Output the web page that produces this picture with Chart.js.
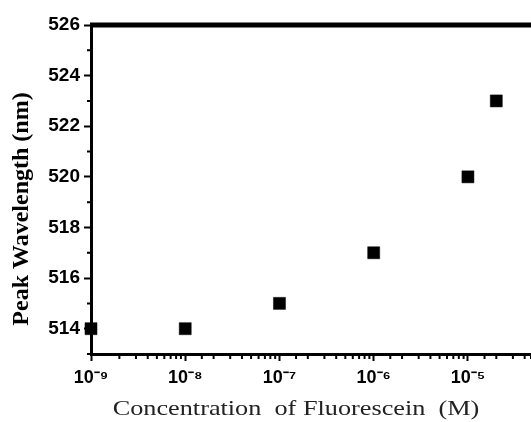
<!DOCTYPE html>
<html>
<head>
<meta charset="utf-8">
<script src="https://cdn.jsdelivr.net/npm/chart.js@4.4.1/dist/chart.umd.min.js"></script>
<style>
  html, body { margin: 0; padding: 0; background: #fff; }
  canvas { display: block; }
</style>
</head>
<body>
<canvas id="peakChart" width="531" height="422"></canvas>
<script>
// fluorescein concentration (M) vs emission peak wavelength (nm)
const concentrations = [1e-9, 1e-8, 1e-7, 1e-6, 1e-5, 2e-5];
const peakWavelengths = [514, 514, 515, 517, 520, 523];

const xRange = [1e-9, 4.67e-5];
const yRange = [513, 526];
const yLabelStep = 2;

const xTitle = 'Concentration  of Fluorescein  (M)';
const yTitle = 'Peak Wavelength (nm)';

const SUP = { '-': '\u207B', '0': '\u2070', '1': '\u00B9', '2': '\u00B2', '3': '\u00B3',
    '4': '\u2074', '5': '\u2075', '6': '\u2076', '7': '\u2077', '8': '\u2078', '9': '\u2079' };

function isDecade(v) {
    const l = Math.log10(v);
    return Math.abs(l - Math.round(l)) < 1e-6;
}

function decadeLabel(v) {
    const exp = String(Math.round(Math.log10(v)));
    return '10' + exp.split('').map(c => SUP[c]).join('');
}

const isMajorY = v => v % yLabelStep === 0;

// short minor ticks, top frame line and axis titles
const decorations = {
    id: 'decorations',
    afterDraw(chart) {
        const { ctx, chartArea, scales } = chart;
        ctx.save();
        ctx.strokeStyle = '#000';
        ctx.lineWidth = 2;
        ctx.beginPath();
        scales.x.ticks.forEach(t => {
            if (isDecade(t.value)) return;
            const px = scales.x.getPixelForValue(t.value);
            ctx.moveTo(px, chartArea.bottom);
            ctx.lineTo(px, chartArea.bottom + 5);
        });
        scales.y.ticks.forEach(t => {
            if (isMajorY(t.value)) return;
            const py = scales.y.getPixelForValue(t.value);
            ctx.moveTo(chartArea.left, py);
            ctx.lineTo(chartArea.left - 4, py);
        });
        ctx.stroke();

        ctx.lineWidth = 5;
        ctx.beginPath();
        ctx.moveTo(chartArea.left - 1, chartArea.top);
        ctx.lineTo(chart.width, chartArea.top);
        ctx.stroke();

        ctx.fillStyle = '#222';
        ctx.textAlign = 'center';
        ctx.textBaseline = 'middle';
        ctx.font = '21px "Liberation Serif"';
        ctx.save();
        ctx.translate(296, 409);
        ctx.scale(1.25, 1);
        ctx.fillText(xTitle, 0, 0);
        ctx.restore();

        ctx.fillStyle = '#000';
        ctx.font = 'bold 24px "Liberation Serif"';
        ctx.save();
        ctx.translate(22, 209);
        ctx.rotate(-Math.PI / 2);
        ctx.fillText(yTitle, 0, 0);
        ctx.restore();
        ctx.restore();
    },
};

new Chart(document.getElementById('peakChart'), {
    type: 'scatter',
    data: {
        datasets: [{
            data: concentrations.map((c, i) => ({ x: c, y: peakWavelengths[i] })),
            pointStyle: 'rect',
            pointRadius: 8.5,
            pointHoverRadius: 8.5,
            backgroundColor: '#000',
            borderColor: '#000',
            borderWidth: 0.5,
            clip: false,
        }],
    },
    options: {
        responsive: false,
        animation: false,
        devicePixelRatio: 1,
        layout: { autoPadding: false, padding: { top: 25, right: 0, left: 0, bottom: 0 } },
        plugins: {
            legend: { display: false },
            tooltip: { enabled: false },
        },
        scales: {
            x: {
                type: 'logarithmic',
                min: xRange[0],
                max: xRange[1],
                afterFit: s => { s.height = 68; s.paddingLeft = 0; s.paddingRight = 0; },
                border: { color: '#000', width: 3 },
                grid: {
                    drawOnChartArea: false,
                    tickLength: 7,
                    tickWidth: 2,
                    tickColor: c => (c.tick && isDecade(c.tick.value) ? '#000' : 'rgba(0,0,0,0)'),
                },
                ticks: {
                    autoSkip: false,
                    maxRotation: 0,
                    padding: 6,
                    color: '#000',
                    font: { family: '"Liberation Sans"', weight: 'bold', size: 18 },
                    callback: v => (isDecade(v) ? decadeLabel(v) : ''),
                },
            },
            y: {
                min: yRange[0],
                max: yRange[1],
                afterFit: s => { s.width = 91; s.paddingTop = 0; s.paddingBottom = 0; },
                border: { color: '#000', width: 3 },
                grid: {
                    drawOnChartArea: false,
                    tickLength: 7,
                    tickWidth: 2,
                    tickColor: c => (c.tick && isMajorY(c.tick.value) ? '#000' : 'rgba(0,0,0,0)'),
                },
                ticks: {
                    stepSize: 1,
                    autoSkip: false,
                    padding: 4,
                    color: '#000',
                    font: { family: '"Liberation Sans"', weight: 'bold', size: 19 },
                    callback: v => (isMajorY(v) ? String(v) : ''),
                },
            },
        },
    },
    plugins: [decorations],
});
</script>
</body>
</html>
